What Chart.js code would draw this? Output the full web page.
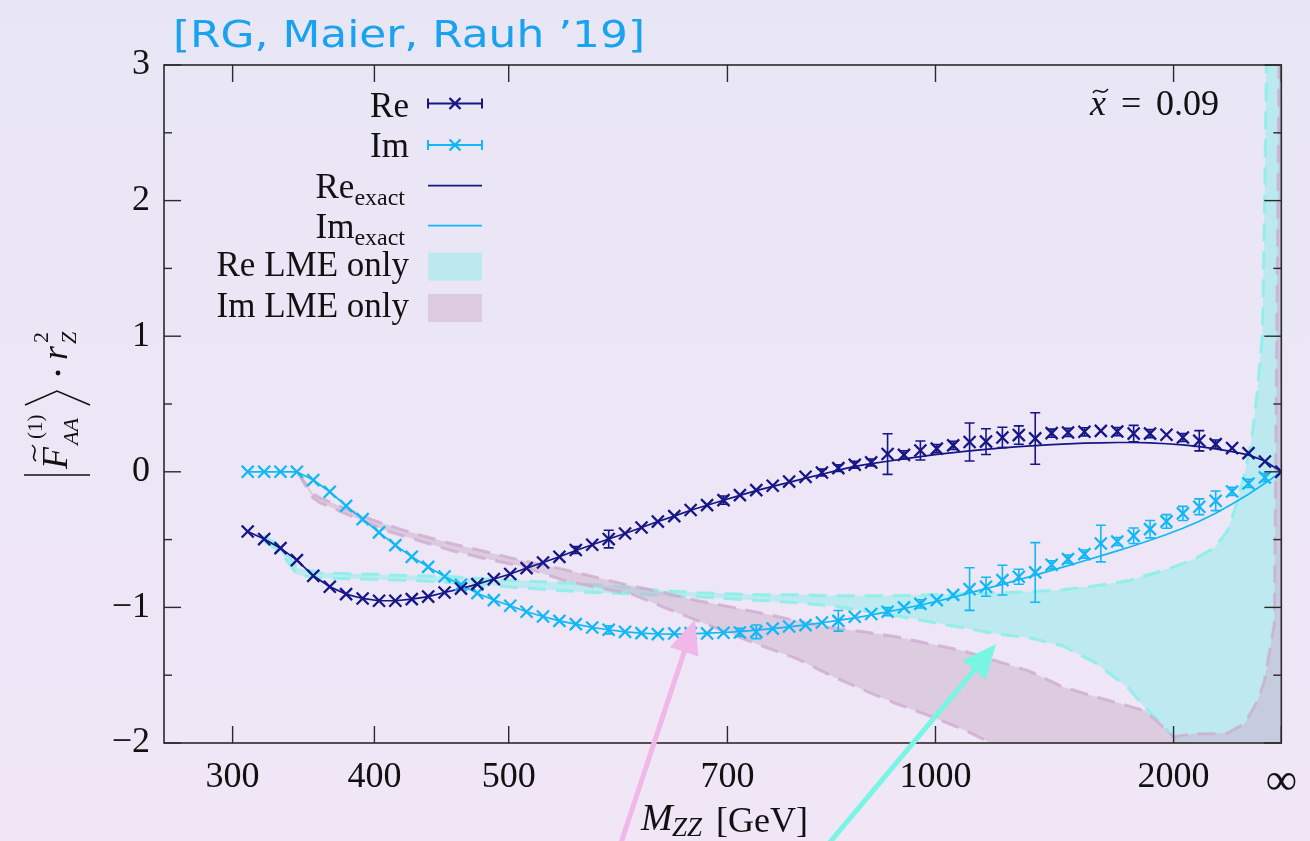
<!DOCTYPE html>
<html>
<head>
<meta charset="utf-8">
<script src="https://cdn.jsdelivr.net/npm/chart.js@4.4.1/dist/chart.umd.min.js"></script>
<style>
html, body { margin: 0; padding: 0; background: #ece7f6; }
canvas { display: block; }
</style>
</head>
<body>
<canvas id="myChart" width="1310" height="841"></canvas>
<script>
// x axis is M_ZZ in GeV, laid out on u = M^2 / (M^2 + D)  (infinity -> 1)
var D = 357751;
function toU(m) { return m === Infinity ? 1 : m * m / (m * m + D); }

var tickM = [300, 400, 500, 700, 1000, 2000, Infinity];
var tickLabels = ["300", "400", "500", "700", "1000", "2000", "\u221e"];
var yTicks = [-2, -1, 0, 1, 2, 3];

var mzz = [310.7, 322.3, 333.8, 345.3, 356.8, 368.4, 379.9, 391.6, 403.3, 415.0,
    426.9, 438.9, 451.0, 463.3, 475.7, 488.4, 501.2, 514.2, 527.5, 541.0,
    554.8, 568.9, 583.4, 598.1, 613.3, 628.8, 644.8, 661.2, 678.2, 695.7,
    713.8, 732.5, 752.0, 772.2, 793.2, 815.1, 838.0, 862.0, 887.2, 913.7,
    941.6, 971.2, 1002.6, 1036.0, 1071.7, 1110.1, 1151.4, 1196.2, 1245.1, 1298.7,
    1357.9, 1423.8, 1498.0, 1582.5, 1680.0, 1794.4, 1931.5, 2100.5, 2316.5, 2607.2,
    3030.2, 3735.3, 5316.2, Infinity];

var rePts = [-0.44, -0.496, -0.563, -0.651, -0.767, -0.848, -0.902, -0.934, -0.951, -0.951,
    -0.939, -0.92, -0.89, -0.861, -0.828, -0.791, -0.754, -0.71, -0.669, -0.627,
    -0.577, -0.538, -0.496, -0.455, -0.411, -0.367, -0.327, -0.282, -0.246, -0.209,
    -0.172, -0.135, -0.103, -0.072, -0.037, -0.005, 0.027, 0.052, 0.069, 0.131,
    0.125, 0.157, 0.171, 0.195, 0.22, 0.223, 0.253, 0.271, 0.246, 0.285,
    0.29, 0.295, 0.302, 0.297, 0.282, 0.282, 0.273, 0.253, 0.229, 0.204,
    0.175, 0.138, 0.076, 0];
var reErr = [0, 0, 0, 0, 0, 0, 0, 0, 0, 0,
    0, 0, 0, 0, 0, 0, 0, 0, 0, 0,
    0.025, 0, 0.065, 0, 0, 0, 0, 0, 0, 0.03,
    0, 0, 0, 0, 0, 0.025, 0.025, 0.025, 0.025, 0.15,
    0.03, 0.07, 0.03, 0.03, 0.14, 0.095, 0.075, 0.068, 0.19, 0.03,
    0.03, 0.03, 0, 0.03, 0.06, 0.03, 0, 0.03, 0.075, 0.03,
    0, 0, 0, 0];
var imPts = [0, 0, 0, 0, -0.061, -0.147, -0.251, -0.349, -0.447, -0.541,
    -0.627, -0.701, -0.772, -0.833, -0.895, -0.946, -0.988, -1.032, -1.067, -1.099,
    -1.123, -1.148, -1.165, -1.18, -1.19, -1.197, -1.192, -1.19, -1.192, -1.187,
    -1.185, -1.18, -1.156, -1.141, -1.131, -1.111, -1.099, -1.069, -1.049, -1.032,
    -1.0, -0.974, -0.946, -0.908, -0.865, -0.848, -0.799, -0.774, -0.742, -0.686,
    -0.644, -0.607, -0.529, -0.514, -0.472, -0.423, -0.366, -0.307, -0.258, -0.214,
    -0.145, -0.086, -0.042, 0];
var imErr = [0, 0, 0, 0, 0, 0, 0, 0, 0, 0,
    0, 0, 0, 0, 0, 0, 0, 0, 0, 0,
    0, 0, 0.03, 0, 0, 0, 0, 0, 0, 0,
    0.03, 0.05, 0, 0, 0, 0, 0.076, 0, 0, 0.03,
    0, 0.03, 0, 0, 0.157, 0.07, 0.11, 0.055, 0.22, 0.03,
    0.03, 0.03, 0.135, 0.03, 0.057, 0.064, 0.05, 0.052, 0.058, 0.072,
    0.03, 0.03, 0.03, 0];
var reExact = [-0.44, -0.496, -0.563, -0.651, -0.767, -0.848, -0.902, -0.934, -0.951, -0.951,
    -0.939, -0.92, -0.89, -0.861, -0.828, -0.791, -0.754, -0.71, -0.669, -0.627,
    -0.58, -0.538, -0.496, -0.455, -0.411, -0.367, -0.327, -0.284, -0.247, -0.21,
    -0.174, -0.139, -0.107, -0.078, -0.047, -0.018, 0.012, 0.04, 0.06, 0.078,
    0.095, 0.112, 0.128, 0.142, 0.155, 0.166, 0.176, 0.185, 0.193, 0.2,
    0.206, 0.211, 0.214, 0.216, 0.216, 0.213, 0.207, 0.198, 0.186, 0.169,
    0.149, 0.125, 0.08, 0];
var imExact = [0, 0, 0, 0, -0.061, -0.147, -0.251, -0.349, -0.447, -0.541,
    -0.627, -0.701, -0.772, -0.833, -0.895, -0.946, -0.988, -1.032, -1.067, -1.099,
    -1.123, -1.148, -1.165, -1.18, -1.19, -1.196, -1.197, -1.195, -1.19, -1.185,
    -1.178, -1.168, -1.156, -1.143, -1.129, -1.113, -1.096, -1.077, -1.056, -1.033,
    -1.008, -0.982, -0.955, -0.925, -0.893, -0.862, -0.83, -0.796, -0.762, -0.727,
    -0.692, -0.656, -0.62, -0.583, -0.545, -0.505, -0.462, -0.416, -0.364, -0.305,
    -0.238, -0.165, -0.085, 0];

// "Re LME only" band
var reBandM = [321.8, 333.7, 345.5, 361.6, 384.7, 408.8, 432.5, 456.8, 482.4, 508.1,
    546.2, 574.3, 603.8, 635.7, 668.6, 703.5, 742.1, 782.5, 826.3, 875.8,
    928.9, 988.3, 1057.6, 1135.0, 1225.6, 1337.7, 1472.5, 1646.1, 1758.0, 1891.8,
    2004.1, 2124.2, 2252.1, 2587.1, 2896.4, 3221.7, 3522.8, 3922.8, 4396.7, 4950.1,
    5238.2, 5579.8, 8194, Infinity];
var reBandHi = [-0.472, -0.546, -0.708, -0.745, -0.752, -0.760, -0.767, -0.774, -0.789, -0.804,
    -0.819, -0.833, -0.855, -0.878, -0.892, -0.900, -0.907, -0.907, -0.914, -0.914,
    -0.914, -0.907, -0.900, -0.892, -0.885, -0.870, -0.841, -0.804, -0.767, -0.730,
    -0.701, -0.671, -0.642, -0.560, -0.435, -0.214, -0.015, 0.229, 0.597, 1.018,
    1.873, 3.009, 4.5, 6];
var reBandLo = [-0.509, -0.590, -0.760, -0.782, -0.789, -0.796, -0.804, -0.819, -0.833, -0.855,
    -0.878, -0.892, -0.900, -0.914, -0.922, -0.937, -0.951, -0.966, -0.988, -1.025,
    -1.062, -1.106, -1.150, -1.195, -1.224, -1.283, -1.409, -1.593, -1.740, -1.858,
    -1.962, -2.2, -2.5, -2.8, -3, -3, -3, -3, -3, -3,
    -3, -3, -3, -3];

// "Im LME only" band
var imBandM = [345.5, 356.7, 361.6, 373.5, 384.7, 396.7, 408.8, 420.3, 432.5, 456.8,
    482.4, 508.1, 546.2, 574.3, 603.8, 635.7, 668.6, 703.5, 742.1, 782.5,
    826.3, 875.8, 928.9, 988.3, 1057.6, 1135.0, 1225.6, 1337.7, 1472.5, 1646.1,
    1758.0, 1891.8, 2004.1, 2124.2, 2252.1, 2587.1, 2896.4, 3522.8, 4396.7, 5238.2,
    8194, Infinity];
var imBandHi = [0, -0.162, -0.192, -0.243, -0.295, -0.347, -0.391, -0.428, -0.465, -0.531,
    -0.590, -0.649, -0.723, -0.782, -0.841, -0.892, -0.951, -0.996, -1.047, -1.099,
    -1.150, -1.180, -1.217, -1.268, -1.320, -1.394, -1.468, -1.585, -1.659, -1.726,
    -1.763, -1.873, -1.954, -1.940, -1.932, -1.932, -1.925, -1.858, -1.689, -1.541,
    -1.121, 5];
var imBandLo = [0, -0.192, -0.229, -0.280, -0.332, -0.383, -0.435, -0.472, -0.509, -0.583,
    -0.642, -0.693, -0.804, -0.856, -0.900, -1.003, -1.099, -1.195, -1.291, -1.379,
    -1.50, -1.61, -1.711, -1.80, -1.90, -2.02, -2.15, -2.3, -2.45, -2.6,
    -2.7, -2.8, -2.9, -3, -3, -3, -3, -3, -3, -3,
    -3, -3];

var reColor = '#161686';
var imColor = '#12b8f5';
var cyanFill = 'rgba(150, 235, 235, 0.55)';
var cyanEdge = 'rgba(140, 238, 232, 0.9)';
var pinkFill = 'rgba(204, 176, 202, 0.5)';
var pinkEdge = 'rgba(205, 170, 205, 0.75)';
var serif = "'Liberation Serif', 'DejaVu Serif', serif";

function pts(xs, ys) {
    return xs.map(function (m, i) { return { x: toU(m), y: ys[i] }; });
}

function line(c, x1, y1, x2, y2) {
    c.beginPath(); c.moveTo(x1, y1); c.lineTo(x2, y2); c.stroke();
}
function tilde(c, x, y, w) {
    c.beginPath();
    c.moveTo(x, y + 2);
    c.bezierCurveTo(x + w * 0.3, y - 5, x + w * 0.6, y + 6, x + w, y - 2);
    c.stroke();
}
function cross(c, x, y, r) {
    line(c, x - r, y - r, x + r, y + r);
    line(c, x - r, y + r, x + r, y - r);
}
function arrow(c, x1, y1, x2, y2, col) {
    var ang = Math.atan2(y2 - y1, x2 - x1), L = 34, W = 15;
    var bx = x2 - L * Math.cos(ang), by = y2 - L * Math.sin(ang);
    c.strokeStyle = col; c.fillStyle = col; c.lineWidth = 5; c.lineCap = 'round';
    line(c, x1, y1, bx, by);
    c.beginPath();
    c.moveTo(x2, y2);
    c.lineTo(bx + W * Math.sin(ang), by - W * Math.cos(ang));
    c.lineTo(bx - W * Math.sin(ang), by + W * Math.cos(ang));
    c.closePath(); c.fill();
}

var decor = {
    id: 'decor',
    beforeDraw: function (chart) {
        var c = chart.ctx;
        var g = c.createLinearGradient(0, 0, 0, chart.height);
        g.addColorStop(0, '#e8e6f5');
        g.addColorStop(1, '#f0e6f6');
        c.save();
        c.fillStyle = g;
        c.fillRect(0, 0, chart.width, chart.height);
        c.restore();
    },
    afterDatasetsDraw: function (chart) {
        var c = chart.ctx, a = chart.chartArea, ys = chart.scales.y;
        c.save();
        c.beginPath(); c.rect(a.left, a.top, a.right - a.left, a.bottom - a.top); c.clip();
        [[0, reErr], [1, imErr]].forEach(function (p) {
            var ds = chart.data.datasets[p[0]];
            var meta = chart.getDatasetMeta(p[0]);
            c.strokeStyle = ds.borderColor; c.lineWidth = 1.6;
            meta.data.forEach(function (el, i) {
                var e = p[1][i];
                if (!e) return;
                var v = ds.data[i].y;
                var y1 = ys.getPixelForValue(v + e), y2 = ys.getPixelForValue(v - e);
                line(c, el.x, y1, el.x, y2);
                line(c, el.x - 5, y1, el.x + 5, y1);
                line(c, el.x - 5, y2, el.x + 5, y2);
            });
        });
        c.restore();
    },
    afterDraw: function (chart) {
        var c = chart.ctx, a = chart.chartArea, xs = chart.scales.x, ys = chart.scales.y;
        c.save();
        // frame with inward ticks
        c.strokeStyle = '#2a2a2a'; c.lineWidth = 1.6;
        c.strokeRect(a.left, a.top, a.right - a.left, a.bottom - a.top);
        c.lineWidth = 1.4;
        tickM.forEach(function (m) {
            var x = xs.getPixelForValue(toU(m));
            line(c, x, a.bottom, x, a.bottom - 17);
            line(c, x, a.top, x, a.top + 17);
        });
        for (var v = -2; v <= 3; v += 0.5) {
            var y = ys.getPixelForValue(v), len = (v % 1 === 0) ? 17 : 8;
            line(c, a.left, y, a.left + len, y);
            line(c, a.right, y, a.right - len, y);
        }

        // legend
        c.fillStyle = '#111'; c.textAlign = 'right'; c.textBaseline = 'alphabetic';
        var rows = [
            { t: 'Re', kind: 'err', col: reColor, y: 103.5, b: 116.7 },
            { t: 'Im', kind: 'err', col: imColor, y: 145, b: 157 },
            { t: 'Re', sub: 'exact', kind: 'line', col: reColor, y: 185.7, b: 198 },
            { t: 'Im', sub: 'exact', kind: 'line', col: imColor, y: 225.7, b: 238 },
            { t: 'Re LME only', kind: 'box', col: cyanFill, y: 266.7, b: 276 },
            { t: 'Im LME only', kind: 'box', col: pinkFill, y: 308, b: 317 }
        ];
        rows.forEach(function (r) {
            c.fillStyle = '#111';
            if (r.sub) {
                c.font = '24px ' + serif;
                c.fillText(r.sub, 405, r.b + 7);
                var w = c.measureText(r.sub).width;
                c.font = '35px ' + serif;
                c.fillText(r.t, 405 - w, r.b);
            } else {
                c.font = '35px ' + serif;
                c.fillText(r.t, 409, r.b);
            }
            c.strokeStyle = r.col; c.lineWidth = 2;
            if (r.kind === 'err') {
                line(c, 428, r.y, 482, r.y);
                line(c, 428, r.y - 5, 428, r.y + 5);
                line(c, 482, r.y - 5, 482, r.y + 5);
                c.lineWidth = 2.4;
                cross(c, 455, r.y, 5.5);
            } else if (r.kind === 'line') {
                c.lineWidth = 1.8;
                line(c, 428, r.y, 482, r.y);
            } else {
                c.fillStyle = '#ece7f6';
                c.fillRect(428, r.y - 14, 54, 28);
                c.fillStyle = r.col;
                c.fillRect(428, r.y - 14, 54, 28);
            }
        });

        // x~ = 0.09
        c.fillStyle = '#111'; c.strokeStyle = '#111'; c.textAlign = 'left';
        c.font = 'italic 36px ' + serif;
        c.fillText('x', 1090, 115);
        c.lineWidth = 1.5;
        tilde(c, 1093, 91, 15);
        c.font = '36px ' + serif;
        c.fillText('=', 1121, 115);
        c.fillText('0.09', 1156, 115);

        // x axis title
        c.font = 'italic 38px ' + serif;
        c.fillText('M', 641, 830);
        c.font = 'italic 27px ' + serif;
        c.fillText('ZZ', 672, 836);
        c.font = '36px ' + serif;
        c.fillText('[GeV]', 716, 832);

        // y axis title (rotated)
        c.save();
        c.translate(67, 477);
        c.rotate(-Math.PI / 2);
        c.lineWidth = 1.6;
        line(c, 2, -43, 2, 23);
        c.font = 'italic 36px ' + serif;
        c.fillText('F', 8, 0);
        tilde(c, 16, -33, 16);
        c.font = '21px ' + serif;
        c.fillText('(1)', 38, -25);
        c.font = 'italic 22px ' + serif;
        c.fillText('AA', 32, 11);
        c.beginPath(); c.moveTo(72, -42); c.lineTo(86, -10); c.lineTo(72, 23); c.stroke();
        c.beginPath(); c.arc(104, -9, 2.4, 0, Math.PI * 2); c.fill();
        c.font = 'italic 36px ' + serif;
        c.fillText('r', 117, 0);
        c.font = '22px ' + serif;
        c.fillText('2', 134, -19);
        c.font = 'italic 22px ' + serif;
        c.fillText('Z', 133, 9);
        c.restore();

        // hand-drawn arrows
        arrow(c, xs.getPixelForValue(toU(594.7)), ys.getPixelForValue(-2.73),
            xs.getPixelForValue(toU(665.5)), ys.getPixelForValue(-1.09), '#f0b8e8');
        arrow(c, xs.getPixelForValue(toU(826.3)), ys.getPixelForValue(-2.73),
            xs.getPixelForValue(toU(1135)), ys.getPixelForValue(-1.27), '#78f5e3');

        // reference tag
        c.fillStyle = '#18a2ef';
        c.font = "38px 'Comic Sans MS', 'DejaVu Sans', sans-serif";
        var txt = '[RG, Maier, Rauh \u201919]';
        var tw = c.measureText(txt).width;
        c.save();
        c.translate(173, 47);
        c.scale(472 / tw, 1);
        c.fillText(txt, 0, 0);
        c.restore();
        c.restore();
    }
};

new Chart(document.getElementById('myChart'), {
    type: 'line',
    data: {
        datasets: [
            {
                label: 'Re', data: pts(mzz, rePts), showLine: false,
                pointStyle: 'crossRot', pointRadius: 8.5, pointBorderWidth: 2.3,
                borderColor: reColor, backgroundColor: reColor
            },
            {
                label: 'Im', data: pts(mzz, imPts), showLine: false,
                pointStyle: 'crossRot', pointRadius: 8.5, pointBorderWidth: 2.3,
                borderColor: imColor, backgroundColor: imColor
            },
            {
                label: 'Re exact', data: pts(mzz, reExact),
                borderColor: reColor, borderWidth: 1.7, pointRadius: 0, fill: false
            },
            {
                label: 'Im exact', data: pts(mzz, imExact),
                borderColor: imColor, borderWidth: 1.7, pointRadius: 0, fill: false
            },
            {
                label: 'Im LME hi', data: pts(imBandM, imBandHi),
                borderColor: pinkEdge, borderWidth: 3, borderDash: [18, 10], pointRadius: 0, fill: false
            },
            {
                label: 'Im LME only', data: pts(imBandM, imBandLo),
                borderColor: pinkEdge, borderWidth: 3, borderDash: [18, 10], pointRadius: 0,
                fill: '-1', backgroundColor: pinkFill
            },
            {
                label: 'Re LME hi', data: pts(reBandM, reBandHi),
                borderColor: cyanEdge, borderWidth: 3, borderDash: [18, 10], pointRadius: 0, fill: false
            },
            {
                label: 'Re LME only', data: pts(reBandM, reBandLo),
                borderColor: cyanEdge, borderWidth: 3, borderDash: [18, 10], pointRadius: 0,
                fill: '-1', backgroundColor: cyanFill
            }
        ]
    },
    options: {
        responsive: false,
        animation: false,
        devicePixelRatio: 1,
        layout: { padding: { top: 65, right: 23, left: 0, bottom: 0 } },
        elements: { line: { tension: 0 } },
        plugins: { legend: { display: false }, tooltip: { enabled: false } },
        scales: {
            x: {
                type: 'linear', min: toU(250), max: 1,
                afterBuildTicks: function (s) {
                    s.ticks = tickM.map(function (m) { return { value: toU(m) }; });
                },
                afterFit: function (s) { s.height = 98; },
                grid: { display: false, drawTicks: false },
                border: { display: false },
                ticks: {
                    autoSkip: false, maxRotation: 0, padding: 13, color: '#111',
                    font: function (ctx) { return { family: serif, size: ctx.index === 6 ? 44 : 36 }; },
                    callback: function (v, i) { return tickLabels[i]; }
                }
            },
            y: {
                type: 'linear', min: -2, max: 3,
                afterBuildTicks: function (s) {
                    s.ticks = yTicks.map(function (v) { return { value: v }; });
                },
                afterFit: function (s) { s.width = 164; },
                grid: { display: false, drawTicks: false },
                border: { display: false },
                ticks: {
                    padding: 14, color: '#111', font: { family: serif, size: 36 },
                    callback: function (v) { return v < 0 ? '\u2212' + Math.abs(v) : String(v); }
                }
            }
        }
    },
    plugins: [decor]
});
</script>
</body>
</html>
